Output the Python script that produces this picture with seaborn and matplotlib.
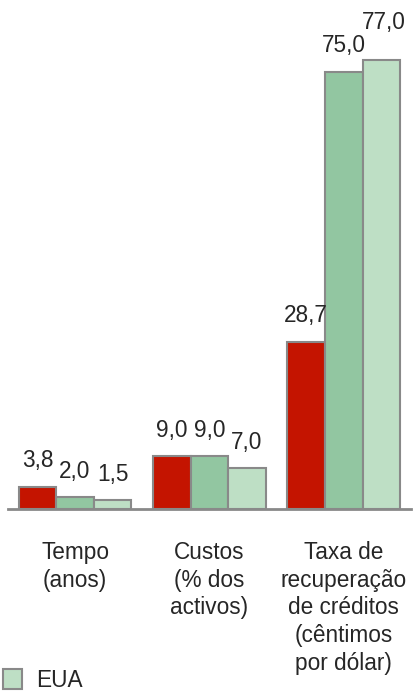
import matplotlib.pyplot as plt
import pandas as pd
import seaborn as sns
from matplotlib.patches import Patch

# indicators (category labels) and the three series
categories = ["Tempo\n(anos)", "Custos\n(% dos\nactivos)",
              "Taxa de\nrecuperação\nde créditos\n(cêntimos\npor dólar)"]
series = ["Portugal", "OCDE", "EUA"]
portugal = [3.8, 9.0, 28.7]
ocde = [2.0, 9.0, 75.0]
eua = [1.5, 7.0, 77.0]
colors = ["#C41400", "#92C6A1", "#BEDFC5"]

df = pd.DataFrame({
    "categoria": categories * 3,
    "serie": [s for s in series for _ in categories],
    "valor": portugal + ocde + eua,
})

sns.set_style("white")
plt.rcParams["font.family"] = ["Liberation Sans", "DejaVu Sans"]
FS = 16.3

fig = plt.figure(figsize=(4.13, 6.92), dpi=100)
ax = fig.add_axes([0.019, 0.2645, 0.976, 0.7355])

sns.barplot(data=df, x="categoria", y="valor", hue="serie", hue_order=series,
            palette=colors, width=0.84, gap=0, saturation=1, legend=False,
            edgecolor="#898989", linewidth=1.5, ax=ax)

for cont in ax.containers:
    texts = ax.bar_label(cont, labels=[f"{b.get_height():.1f}".replace(".", ",") for b in cont],
                         padding=10.5, fontsize=FS)
# last label sits a bit higher so it clears its neighbour
texts[-1].xyann = (2, 19)

ax.set_xlim(-0.5, 2.5)
ax.set_ylim(0, 87.3)
ax.set_xlabel("")
ax.set_ylabel("")
ax.set_yticks([])
for side in ["top", "left", "right"]:
    ax.spines[side].set_visible(False)
ax.spines["bottom"].set_color("#898989")
ax.spines["bottom"].set_linewidth(2)

# category separators as ticks, labels without ticks
ax.set_xticks([-0.5, 0.5, 1.5, 2.5], minor=True)
ax.tick_params(axis="x", which="minor", direction="out", length=11,
               width=1.5, color="#898989")
ax.tick_params(axis="x", which="major", length=0, pad=23, labelsize=FS)
for lbl in ax.get_xticklabels():
    lbl.set_linespacing(1.26)

handle = Patch(facecolor=colors[2], edgecolor="#898989", linewidth=1.5)
fig.legend([handle], ["EUA"], loc="upper left", bbox_to_anchor=(0.002, 0.037),
           frameon=False, fontsize=FS, handlelength=0.85, handleheight=0.95,
           handletextpad=0.6, borderpad=0.1, borderaxespad=0)

fig.savefig("out.png", dpi=100)
